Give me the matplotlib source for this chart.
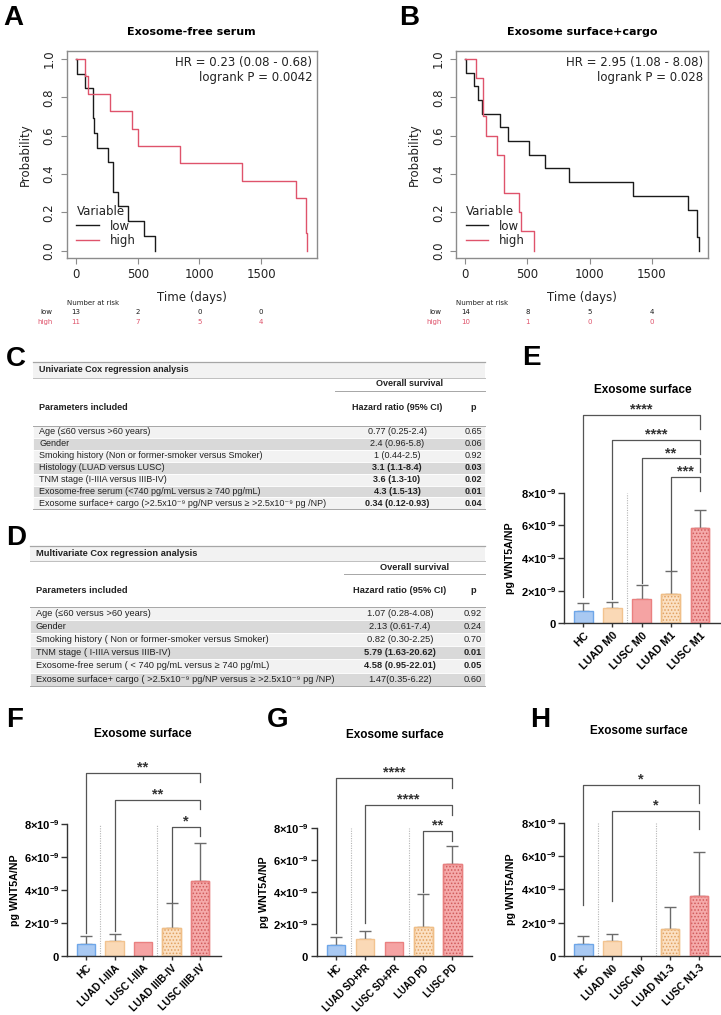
import numpy as np
import matplotlib.pyplot as plt
from matplotlib.patches import Rectangle
from matplotlib.ticker import FuncFormatter
import matplotlib.transforms as mtransforms

W, H = 721, 1015
plt.rcParams['mathtext.fontset'] = 'custom'
plt.rcParams['mathtext.rm'] = 'Liberation Sans'
plt.rcParams['mathtext.bf'] = 'Liberation Sans:bold'
plt.rcParams['hatch.linewidth'] = 0.7

# ---------------- Kaplan-Meier data (days, survival) ----------------
A_low_t = [0, 8, 73, 135, 145, 170, 256, 304, 337, 425, 552, 641]
A_low_s = [1, 0.923, 0.846, 0.692, 0.615, 0.538, 0.462, 0.308, 0.231, 0.154, 0.077, 0.0]
A_high_t = [0, 73, 99, 275, 450, 506, 840, 1343, 1785, 1860, 1872]
A_high_s = [1, 0.909, 0.818, 0.727, 0.636, 0.545, 0.455, 0.364, 0.273, 0.091, 0.0]
B_low_t = [0, 5, 73, 105, 138, 275, 342, 509, 644, 838, 1349, 1791, 1866, 1877]
B_low_s = [1, 0.929, 0.857, 0.786, 0.714, 0.643, 0.571, 0.5, 0.429, 0.357, 0.286, 0.214, 0.071, 0]
B_high_t = [0, 84, 140, 167, 253, 310, 428, 447, 550]
B_high_s = [1, 0.9, 0.7, 0.6, 0.5, 0.3, 0.2, 0.1, 0]

risk_times = [0, 500, 1000, 1500]
A_risk_low = [13, 2, 0, 0]
A_risk_high = [11, 7, 5, 4]
B_risk_low = [14, 8, 5, 4]
B_risk_high = [10, 1, 0, 0]
A_hr = ["HR = 0.23 (0.08 - 0.68)", "logrank P = 0.0042"]
B_hr = ["HR = 2.95 (1.08 - 8.08)", "logrank P = 0.028"]

# ---------------- tables ----------------
C_params = ["Age (\u226460 versus >60 years)", "Gender",
            "Smoking history (Non or former-smoker versus Smoker)",
            "Histology (LUAD versus LUSC)", "TNM stage (I-IIIA versus IIIB-IV)",
            "Exosome-free serum (<740 pg/mL versus \u2265 740 pg/mL)",
            "Exosome surface+ cargo (>2.5x10\u207b\u2079 pg/NP versus \u2265 >2.5x10\u207b\u2079 pg /NP)"]
C_hr = ["0.77 (0.25-2.4)", "2.4 (0.96-5.8)", "1 (0.44-2.5)", "3.1 (1.1-8.4)",
        "3.6 (1.3-10)", "4.3 (1.5-13)", "0.34 (0.12-0.93)"]
C_p = ["0.65", "0.06", "0.92", "0.03", "0.02", "0.01", "0.04"]
C_bold = [False, False, False, True, True, True, True]

D_params = ["Age (\u226460 versus >60 years)", "Gender",
            "Smoking history ( Non or former-smoker versus Smoker)",
            "TNM stage ( I-IIIA versus IIIB-IV)",
            "Exosome-free serum ( < 740 pg/mL versus \u2265 740 pg/mL)",
            "Exosome surface+ cargo ( >2.5x10\u207b\u2079 pg/NP versus \u2265 >2.5x10\u207b\u2079 pg /NP)"]
D_hr = ["1.07 (0.28-4.08)", "2.13 (0.61-7.4)", "0.82 (0.30-2.25)", "5.79 (1.63-20.62)",
        "4.58 (0.95-22.01)", "1.47(0.35-6.22)"]
D_p = ["0.92", "0.24", "0.70", "0.01", "0.05", "0.60"]
D_bold = [False, False, False, True, True, False]

# ---------------- bar data (pg WNT5A/NP) ----------------
E_cats = ["HC", "LUAD M0", "LUSC M0", "LUAD M1", "LUSC M1"]
E_mean = [0.76e-9, 0.96e-9, 1.51e-9, 1.78e-9, 5.83e-9]
E_err = [0.47e-9, 0.37e-9, 0.84e-9, 1.45e-9, 1.12e-9]
E_br = [(0, 4), (1, 4), (2, 4), (3, 4)]
E_br_y = [12.76e-9, 11.23e-9, 10.1e-9, 8.97e-9]
E_br_leg = [1.63e-9, 1.47e-9, 2.45e-9, 3.26e-9]
E_br_txt = ["****", "****", "**", "***"]

F_cats = ["HC", "LUAD I-IIIA", "LUSC I-IIIA", "LUAD IIIB-IV", "LUSC IIIB-IV"]
F_mean = [0.73e-9, 0.93e-9, 0.87e-9, 1.72e-9, 4.55e-9]
F_err = [0.48e-9, 0.38e-9, 0.0, 1.51e-9, 2.32e-9]
F_br = [(0, 4), (1, 4), (3, 4)]
F_br_y = [11.1e-9, 9.45e-9, 7.84e-9]
F_br_leg = [1.37e-9, 1.54e-9, 3.29e-9]
F_br_txt = ["**", "**", "*"]

G_cats = ["HC", "LUAD SD+PR", "LUSC SD+PR", "LUAD PD", "LUSC PD"]
G_mean = [0.69e-9, 1.06e-9, 0.86e-9, 1.84e-9, 5.76e-9]
G_err = [0.48e-9, 0.53e-9, 0.0, 2.04e-9, 1.15e-9]
G_br = [(0, 4), (1, 4), (3, 4)]
G_br_y = [11.13e-9, 9.46e-9, 7.83e-9]
G_br_leg = [1.42e-9, 2.05e-9, 4.03e-9]
G_br_txt = ["****", "****", "**"]

H_cats = ["HC", "LUAD N0", "LUSC N0", "LUAD N1-3", "LUSC N1-3"]
H_mean = [0.72e-9, 0.9e-9, 0.0, 1.64e-9, 3.6e-9]
H_err = [0.48e-9, 0.42e-9, 0.0, 1.32e-9, 2.66e-9]
H_br = [(0, 4), (1, 4)]
H_br_y = [10.26e-9, 8.7e-9]
H_br_leg = [3.06e-9, 3.3e-9]
H_br_txt = ["*", "*"]

KM_LOW = '#1a1a1a'
KM_HIGH = '#DF536B'
BAR_FACE = ['#a9c9f2', '#fad9b6', '#f5a3a3', '#fbe0c2', '#f5aaaa']
BAR_EDGE = ['#6ea6e8', '#f2c38f', '#ea8080', '#f0bf88', '#e88080']
BAR_HATCH = [None, None, None, '#e0a060', '#d05a5a']
TXT = '#222222'

fig = plt.figure(figsize=(W / 100, H / 100), dpi=100)


def box(l, t, r, b):
    return fig.add_axes([l / W, 1 - b / H, (r - l) / W, (b - t) / H])


def ftext(x, y, s, **kw):
    fig.text(x / W, 1 - y / H, s, **kw)


# overlay for tables / labels (pixel coordinates)
ov = fig.add_axes([0, 0, 1, 1], zorder=-1)
ov.set_xlim(0, W)
ov.set_ylim(H, 0)
ov.axis('off')

for lab, x, y in [('A', 3, 25), ('B', 399, 25), ('C', 6, 366), ('D', 6, 545),
                  ('E', 522, 365), ('F', 6, 727), ('G', 267, 727), ('H', 530, 727)]:
    ftext(x, y, lab, fontsize=20, fontweight='bold', family='Liberation Sans',
          ha='left', va='baseline')


# ---------------- KM panels ----------------
def km_panel(rect, title, title_x, lo_t, lo_s, hi_t, hi_s, hr, r_lo, r_hi):
    ax = box(*rect)
    ax.step(lo_t, lo_s, where='post', color=KM_LOW, lw=1.0, label='low')
    ax.step(hi_t, hi_s, where='post', color=KM_HIGH, lw=1.0, label='high')
    ax.set_xlim(-75, 1950)
    ax.set_ylim(-0.04, 1.043)
    ax.set_xticks(risk_times)
    ax.set_yticks([0, 0.2, 0.4, 0.6, 0.8, 1.0])
    ax.set_yticklabels(['0.0', '0.2', '0.4', '0.6', '0.8', '1.0'], rotation=90, va='center')
    for sp in ax.spines.values():
        sp.set_color('#8c8c8c')
        sp.set_linewidth(1.0)
    ax.tick_params(colors='#8c8c8c', labelcolor=TXT, labelsize=8.5, length=4, width=0.8)
    ax.tick_params(axis='y', pad=4)
    ax.tick_params(axis='x', pad=3)
    ax.set_ylabel('Probability', fontsize=8.5, color=TXT)
    ax.set_xlabel('Time (days)', fontsize=8.5, color=TXT)
    ax.yaxis.set_label_coords(-0.14, 0.5)
    ax.xaxis.set_label_coords(0.5, -0.157)
    ax.text(0.982, 0.944, hr[0], transform=ax.transAxes, ha='right', va='center', fontsize=8.5, color=TXT)
    ax.text(0.982, 0.872, hr[1], transform=ax.transAxes, ha='right', va='center', fontsize=8.5, color=TXT)
    leg = ax.legend(title='Variable', loc='lower left', bbox_to_anchor=(0.02, 0.03), frameon=False,
                    fontsize=8.5, title_fontsize=8.5, handlelength=1.9, handletextpad=0.9,
                    labelspacing=0.15, borderaxespad=0, alignment='left')
    for t in leg.get_texts():
        t.set_color(TXT)
    leg.get_title().set_color(TXT)
    tr = mtransforms.blended_transform_factory(ax.transData, ax.transAxes)
    ax.text(-75, -0.214, 'Number at risk', transform=tr, fontsize=5, color=TXT, ha='left', va='center')
    ax.text(-191, -0.26, 'low', transform=tr, fontsize=5, color=KM_LOW, ha='right', va='center')
    ax.text(-191, -0.305, 'high', transform=tr, fontsize=5, color=KM_HIGH, ha='right', va='center')
    for t, a, b in zip(risk_times, r_lo, r_hi):
        ax.text(t, -0.26, str(a), transform=tr, fontsize=5, color=KM_LOW, ha='center', va='center')
        ax.text(t, -0.305, str(b), transform=tr, fontsize=5, color=KM_HIGH, ha='center', va='center')
    ftext(title_x, 31.7, title, fontsize=8, fontweight='bold', ha='center', va='center')
    return ax


km_panel((66.7, 50.7, 316.7, 258.3), 'Exosome-free serum', 191.7,
         A_low_t, A_low_s, A_high_t, A_high_s, A_hr, A_risk_low, A_risk_high)
km_panel((456.0, 50.7, 707.7, 258.3), 'Exosome surface+cargo', 581.8,
         B_low_t, B_low_s, B_high_t, B_high_s, B_hr, B_risk_low, B_risk_high)


# ---------------- tables ----------------
TFONT = ['Liberation Sans', 'DejaVu Sans']


def table(title, params, hrs, ps, bold, g):
    x0, x1 = g['x0'], g['x1']
    fs = g['fs']
    ov.add_patch(Rectangle((x0, g['bar_top']), x1 - x0, g['bar_bot'] - g['bar_top'],
                           facecolor='#f2f2f2', edgecolor='none'))
    ov.plot([x0, x1], [g['bar_top']] * 2, color='#a6a6a6', lw=0.9)
    ov.plot([x0, x1], [g['bar_bot']] * 2, color='#bfbfbf', lw=0.7)
    ov.text(g['name_x'], (g['bar_top'] + g['bar_bot']) / 2, title, fontsize=fs, fontweight='bold',
            family=TFONT, color=TXT, ha='left', va='center')
    ov.text((g['os_x0'] + x1) / 2, g['os_y'], 'Overall survival', fontsize=fs, fontweight='bold',
            family=TFONT, color=TXT, ha='center', va='center')
    ov.plot([g['os_x0'], x1], [g['os_line']] * 2, color='#a6a6a6', lw=0.7)
    ov.text(g['name_x'], g['hdr_y'], 'Parameters included', fontsize=fs, fontweight='bold',
            family=TFONT, color=TXT, ha='left', va='center')
    ov.text(g['hr_x'], g['hdr_y'], 'Hazard ratio (95% CI)', fontsize=fs, fontweight='bold',
            family=TFONT, color=TXT, ha='center', va='center')
    ov.text(g['p_x'], g['hdr_y'], 'p', fontsize=fs, fontweight='bold',
            family=TFONT, color=TXT, ha='center', va='center')
    rh = g['row_h']
    for i, (nm, hr, p, bd) in enumerate(zip(params, hrs, ps, bold)):
        top = g['row_top'] + i * rh
        fc = '#f2f2f2' if i % 2 == 0 else '#d9d9d9'
        ov.add_patch(Rectangle((x0, top), x1 - x0, rh, facecolor=fc, edgecolor='white', lw=0.6))
        yc = top + rh / 2
        ov.text(g['name_x'], yc, nm, fontsize=fs, family=TFONT, color=TXT, ha='left', va='center')
        w = 'bold' if bd else 'normal'
        ov.text(g['hr_x'], yc, hr, fontsize=fs, family=TFONT, color=TXT, ha='center', va='center',
                fontweight=w)
        ov.text(g['p_x'], yc, p, fontsize=fs, family=TFONT, color=TXT, ha='center', va='center',
                fontweight=w)
    ov.plot([x0, x1], [g['row_top']] * 2, color='#a6a6a6', lw=0.7)
    ov.plot([x0, x1], [g['row_top'] + len(params) * rh] * 2, color='#a6a6a6', lw=0.7)


table('Univariate Cox regression analysis', C_params, C_hr, C_p, C_bold,
      dict(x0=33, x1=485, bar_top=362, bar_bot=378, os_y=384, os_line=391, os_x0=335,
           hdr_y=407, row_top=426, row_h=11.9, name_x=39, hr_x=397, p_x=473, fs=6.5))
table('Multivariate Cox regression analysis', D_params, D_hr, D_p, D_bold,
      dict(x0=30, x1=485, bar_top=545.7, bar_bot=560.7, os_y=567.7, os_line=574, os_x0=344,
           hdr_y=590.7, row_top=606.5, row_h=13.2, name_x=36, hr_x=400, p_x=473, fs=6.65))


# ---------------- bar panels ----------------
def sci_fmt(v, pos):
    n = int(round(v / 1e-9))
    return r'$\mathbf{0}$' if n == 0 else r'$\mathbf{%d{\times}10^{-9}}$' % n


def bar_panel(lay, cats, mean, err, br, br_y, br_leg, br_txt, seps, rleg, title_xy, xfs=7.8):
    l, r, b, ppu, x0px, step, ytop = lay
    ax = box(l, b - ytop * 1e9 * ppu, r, b)
    ax.set_xlim((l - x0px) / step, (r - x0px) / step)
    ax.set_ylim(0, ytop)
    x = np.arange(len(cats))
    for i in range(len(cats)):
        if mean[i] <= 0:
            continue
        ax.bar(x[i], mean[i], width=0.64, color=BAR_FACE[i], edgecolor=BAR_EDGE[i], lw=1.0, zorder=2)
        if BAR_HATCH[i]:
            ax.bar(x[i], mean[i], width=0.64, color='none', edgecolor=BAR_HATCH[i], lw=0,
                   hatch='.....', zorder=3)
            ax.bar(x[i], mean[i], width=0.64, color='none', edgecolor=BAR_EDGE[i], lw=1.0, zorder=4)
        if err[i] > 0:
            ax.errorbar(x[i], mean[i], yerr=[[0], [err[i]]], fmt='none', ecolor='#6b6b6b',
                        elinewidth=1.0, capsize=4, capthick=1.0, zorder=1)
    for s in seps:
        ax.plot([s, s], [0, 8e-9], color='#b5b5b5', lw=0.8, ls=(0, (1, 1.2)), zorder=0)
    for (i, j), y, lg, t in zip(br, br_y, br_leg, br_txt):
        ax.plot([i, i, j, j], [lg, y, y, y - rleg], color='#555555', lw=0.9, zorder=5)
        ax.text((i + j) / 2, y - 0.1e-9, t, ha='center', va='bottom', fontsize=10.5,
                fontweight='bold', color='#333333', family='Liberation Sans')
    ax.spines['top'].set_visible(False)
    ax.spines['right'].set_visible(False)
    ax.spines['left'].set_bounds(0, 8e-9)
    for sp in ('left', 'bottom'):
        ax.spines[sp].set_color('#333333')
        ax.spines[sp].set_linewidth(1.0)
    ax.set_yticks([0, 2e-9, 4e-9, 6e-9, 8e-9])
    ax.yaxis.set_major_formatter(FuncFormatter(sci_fmt))
    ax.set_xticks(x)
    ax.set_xticklabels(cats, rotation=45, ha='right', va='top', rotation_mode='anchor',
                       fontsize=xfs, fontweight='bold', family='Liberation Sans')
    ax.tick_params(axis='y', labelsize=8, length=4, width=1.0, pad=1.5, color='#333333')
    ax.tick_params(axis='x', length=3, width=1.0, pad=2, color='#333333')
    ax.set_ylabel('pg WNT5A/NP', fontsize=7.7, fontweight='bold', family='Liberation Sans')
    ax.yaxis.set_label_coords(-0.31, 4e-9 / ytop)
    ftext(title_xy[0], title_xy[1], 'Exosome surface', fontsize=8.5, fontweight='bold',
          family='Liberation Sans', ha='center', va='center')
    return ax


bar_panel((564, 721, 623.3, 16.33, 583.3, 29.17, 14e-9), E_cats, E_mean, E_err,
          E_br, E_br_y, E_br_leg, E_br_txt, [1.5], 0.85e-9, (643, 390))
bar_panel((67.3, 220.7, 956, 16.5, 86, 28.5, 12.5e-9), F_cats, F_mean, F_err,
          F_br, F_br_y, F_br_leg, F_br_txt, [0.5, 2.5], 0.55e-9, (143, 734.3), xfs=7.5)
bar_panel((316.7, 471.7, 956, 15.96, 336, 29.07, 12.5e-9), G_cats, G_mean, G_err,
          G_br, G_br_y, G_br_leg, G_br_txt, [0.5, 2.5], 0.6e-9, (395, 735), xfs=6.9)
bar_panel((564.3, 721, 956, 16.67, 583.3, 28.93, 12.5e-9), H_cats, H_mean, H_err,
          H_br, H_br_y, H_br_leg, H_br_txt, [0.5, 2.5], 1.1e-9, (639.3, 730.7), xfs=7.5)

fig.savefig('out.png', dpi=100)
